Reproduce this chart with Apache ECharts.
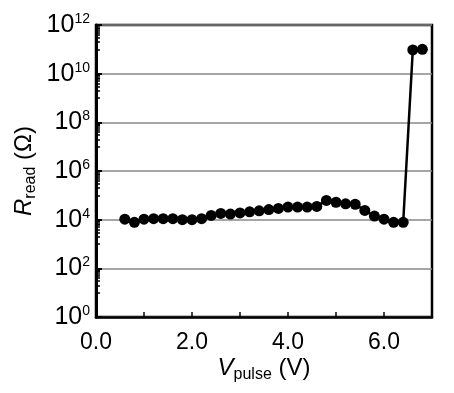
<!DOCTYPE html>
<html>
<head>
<meta charset="utf-8">
<script src="https://cdn.jsdelivr.net/npm/echarts@6/dist/echarts.min.js"></script>
<style>
html, body { margin: 0; padding: 0; background: #fff; }
#chart { width: 454px; height: 393px; }
</style>
</head>
<body>
<div id="chart"></div>
<script>
// pulse voltage (V)
var voltage = [0.6, 0.8, 1.0, 1.2, 1.4, 1.6, 1.8, 2.0, 2.2, 2.4, 2.6, 2.8, 3.0, 3.2, 3.4, 3.6,
               3.8, 4.0, 4.2, 4.4, 4.6, 4.8, 5.0, 5.2, 5.4, 5.6, 5.8, 6.0, 6.2, 6.4, 6.6, 6.8];
// read resistance (ohm)
var resistance = [1.05e4, 7.8e3, 1.05e4, 1.1e4, 1.1e4, 1.1e4, 1.0e4, 1.0e4, 1.1e4, 1.5e4, 1.8e4, 1.7e4,
                  1.9e4, 2.1e4, 2.3e4, 2.6e4, 2.9e4, 3.3e4, 3.3e4, 3.3e4, 3.5e4, 6.2e4, 5.2e4, 4.5e4,
                  4.3e4, 2.4e4, 1.4e4, 1.05e4, 7.8e3, 7.8e3, 9.5e10, 1.0e11];
var xTickLabels = ['0.0', '', '2.0', '', '4.0', '', '6.0', ''];
var yExponents = [0, 2, 4, 6, 8, 10, 12];

// minor ticks: log spaced, only in the upper decade of each labelled step
var minorTicks = [];
for (var n = 1; n < 12; n += 2) {
    for (var k = 1; k <= 9; k++) {
        minorTicks.push(n + Math.log10(k));
    }
}

var font = 'Liberation Sans, Arial, sans-serif';
var nameRich = {
    i: { fontFamily: font, fontSize: 24, fontStyle: 'italic', color: '#000', lineHeight: 28, verticalAlign: 'bottom' },
    s: { fontFamily: font, fontSize: 16, color: '#000', lineHeight: 16, verticalAlign: 'bottom', padding: [0, 0, -3, 0] },
    n: { fontFamily: font, fontSize: 24, color: '#000', lineHeight: 28, verticalAlign: 'bottom' }
};

var myChart = echarts.init(document.getElementById('chart'));
myChart.setOption({
    animation: false,
    grid: {
        left: 96, top: 25, right: 22, bottom: 76,
        show: true, borderColor: '#000', borderWidth: 2.5
    },
    xAxis: [{
        type: 'value',
        min: 0, max: 7, interval: 1,
        axisLine: { show: true, lineStyle: { color: '#000', width: 2.5 } },
        axisTick: { show: true, inside: true, length: 5, lineStyle: { color: '#000', width: 1.5 } },
        splitLine: { show: false },
        axisLabel: {
            color: '#000', fontFamily: font, fontSize: 23, margin: 17, lineHeight: 18,
            formatter: function (v) { return xTickLabels[Math.round(v)] || ''; }
        },
        name: '{i|V}{s|pulse}{n| (V)}',
        nameLocation: 'middle',
        nameGap: 35,
        nameMoveOverlap: false,
        nameTextStyle: { rich: nameRich }
    }],
    yAxis: [{
        type: 'log',
        logBase: 10,
        min: 1, max: 1e12, interval: 2,
        axisLine: { show: true, lineStyle: { color: '#000', width: 3 } },
        axisTick: { show: true, inside: true, length: 6, lineStyle: { color: '#000', width: 2 } },
        splitLine: { show: true, lineStyle: { color: '#888', width: 1.5 } },
        axisLabel: {
            margin: 6,
            formatter: function (v) {
                var e = Math.round(Math.log10(v));
                return yExponents.indexOf(e) >= 0 ? '{b|10}{s|' + e + '}' : '';
            },
            rich: {
                b: { fontFamily: font, fontSize: 25, color: '#000', lineHeight: 26, verticalAlign: 'middle' },
                s: { fontFamily: font, fontSize: 14, color: '#000', lineHeight: 14, verticalAlign: 'top' }
            }
        },
        name: '{i|R}{s|read}{n| (Ω)}',
        nameLocation: 'middle',
        nameRotate: 90,
        nameGap: 60,
        nameMoveOverlap: false,
        nameTextStyle: { rich: nameRich }
    }, {
        type: 'value',
        min: 0, max: 12,
        position: 'left',
        axisLine: { show: false },
        axisLabel: { show: false },
        splitLine: { show: false },
        axisTick: {
            show: true, inside: true, length: 4,
            customValues: minorTicks,
            lineStyle: { color: '#000', width: 1.5 }
        }
    }],
    series: [{
        type: 'line',
        yAxisIndex: 0,
        data: voltage.map(function (v, i) { return [v, resistance[i]]; }),
        symbol: 'circle',
        symbolSize: 11,
        itemStyle: { color: '#000' },
        lineStyle: { color: '#000', width: 2.5 }
    }]
});
</script>
</body>
</html>
